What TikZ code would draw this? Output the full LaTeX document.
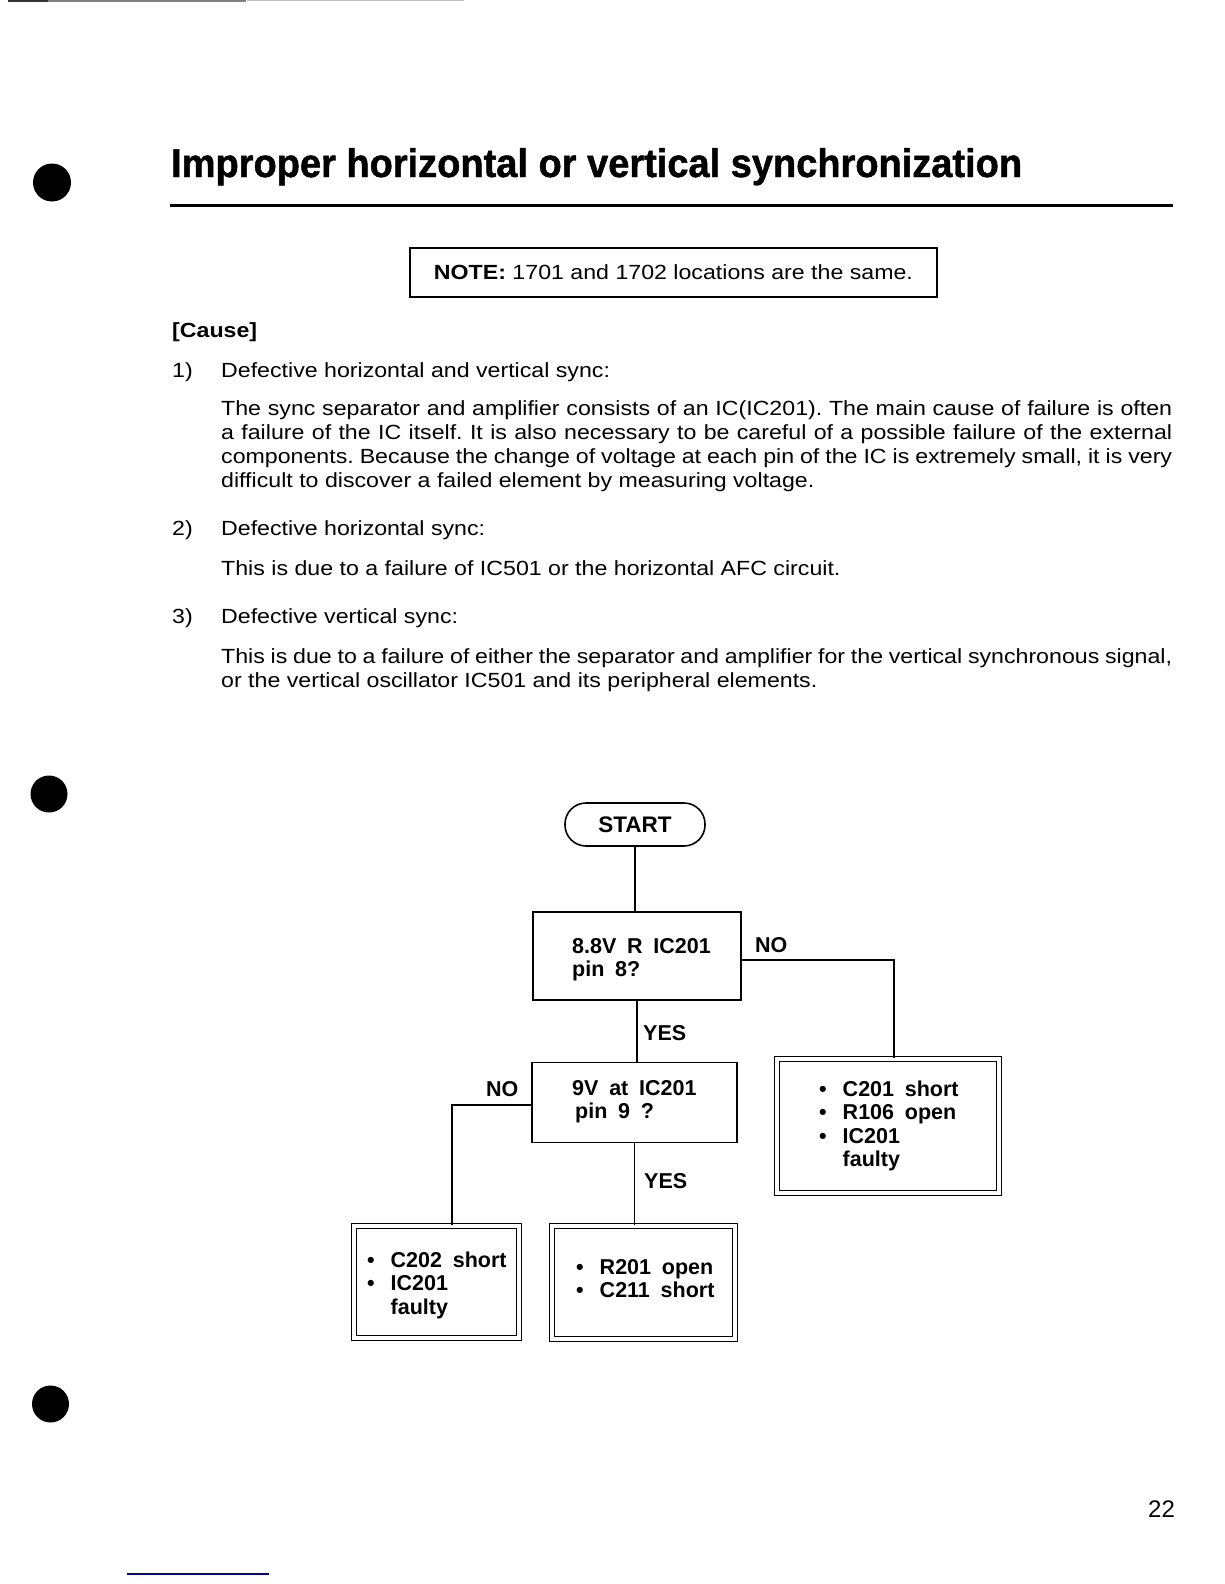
\documentclass[tikz,border=0pt]{standalone}
\usepackage{fontspec}
\setmainfont{Liberation Sans}
\newfontfamily\bodyf[FakeStretch=1.13]{Liberation Sans}
\newfontfamily\titlef[FakeStretch=0.95, BoldFeatures={FakeBold=1.2}]{Liberation Sans}
\usetikzlibrary{positioning}
\frenchspacing

\newcommand{\txt}{\bodyf\fontsize{20.5}{24}\selectfont}
\newcommand{\flw}{\fontsize{21.5}{23.5}\selectfont\bfseries\spaceskip=0.5em plus 0.1em\relax}
\newcommand{\jline}[1]{\makebox[951pt][s]{#1}}
\newcommand{\righe}[1]{\begin{tabular}[t]{@{}l@{}}#1\end{tabular}}
\newcommand{\elenco}[1]{\begin{tabular}[t]{@{}l@{\hspace{16pt}}l@{}}#1\end{tabular}}

\tikzset{
  testo/.style={font=\txt, inner sep=0pt, anchor=base west},
  flusso/.style={font=\flw, inner sep=0pt, anchor=base west},
  domanda/.style={draw, line width=1.6pt, inner sep=0pt},
  esito/.style={draw, line width=1.5pt, double, double distance=3.5pt, inner sep=0pt},
  linea/.style={line width=1.6pt},
}

\begin{document}
\begin{tikzpicture}[x=1pt, y=-1pt]
  \useasboundingbox (0,0) rectangle (1224,1584);

  % bordo di scansione
  \draw[black!80, line width=1.5pt] (8,1) -- (48,1);
  \draw[black!50, line width=1.2pt] (48,1) -- (246,1);
  \draw[black!25, line width=1pt] (247,1) -- (464,1);

  % pallini a margine
  \fill (52,182.5) circle (19pt);
  \fill (49,794) circle (18.5pt);
  \fill (50.5,1404) circle (18.5pt);

  % titolo
  \node[font=\titlef\fontsize{40}{44}\selectfont\bfseries, inner sep=0pt, anchor=base west] (titolo) at (171,177) {Improper horizontal or vertical synchronization};
  \draw[line width=3.5pt] (170,205.5) -- (1173,205.5);

  % nota
  \node[draw, line width=1.4pt, minimum width=527pt, minimum height=49pt, font=\txt, inner sep=0pt] (nota) at (673.5,272.5) {\textbf{NOTE:} 1701 and 1702 locations are the same.};

  % cause
  \node[testo, font=\txt\bfseries] (cause) at (172,337) {[Cause]};

  \node[testo] (n1) at (172,377) {1)};
  \node[testo] (v1) at (221,377) {Defective horizontal and vertical sync:};
  \node[testo] (p1a) at (221,415) {\jline{The sync separator and amplifier consists of an IC(IC201). The main cause of failure is often}};
  \node[testo] (p1b) at (221,439) {\jline{a failure of the IC itself. It is also necessary to be careful of a possible failure of the external}};
  \node[testo] (p1c) at (221,463) {\jline{components. Because the change of voltage at each pin of the IC is extremely small, it is very}};
  \node[testo] (p1d) at (221,487) {difficult to discover a failed element by measuring voltage.};

  \node[testo] (n2) at (172,535) {2)};
  \node[testo] (v2) at (221,535) {Defective horizontal sync:};
  \node[testo] (p2a) at (221,575) {This is due to a failure of IC501 or the horizontal AFC circuit.};

  \node[testo] (n3) at (172,623) {3)};
  \node[testo] (v3) at (221,623) {Defective vertical sync:};
  \node[testo] (p3a) at (221,663) {\jline{This is due to a failure of either the separator and amplifier for the vertical synchronous signal,}};
  \node[testo] (p3b) at (221,687) {or the vertical oscillator IC501 and its peripheral elements.};

  % diagramma di flusso
  \node[draw, line width=1.6pt, rounded corners=21pt, minimum width=140pt, minimum height=43pt, font=\fontsize{22.5}{24}\selectfont\bfseries, inner sep=0pt] (start) at (635,824.5) {START};

  \node[domanda, minimum width=208pt, minimum height=88pt] (q1) at (637,956) {};
  \node[flusso] (q1t) at (572,953) {\righe{8.8V R IC201\\pin 8?}};

  \node[domanda, minimum width=205pt, minimum height=80pt] (q2) at (634.5,1102.5) {};
  \node[flusso] (q2t) at (572,1095) {\righe{9V at IC201\\\hspace{3pt}pin 9 ?}};

  \node[esito, minimum width=222pt, minimum height=134pt] (r1) at (888,1126) {};
  \node[flusso] (r1t) at (819,1096) {\elenco{\textbullet & C201 short\\ \textbullet & R106 open\\ \textbullet & IC201\\ & faulty}};

  \node[esito, minimum width=165pt, minimum height=112pt] (r2) at (436.5,1282) {};
  \node[flusso] (r2t) at (367,1267) {\elenco{\textbullet & C202 short\\ \textbullet & IC201\\ & faulty}};

  \node[esito, minimum width=183pt, minimum height=113pt] (r3) at (643.5,1282.5) {};
  \node[flusso] (r3t) at (576,1274) {\elenco{\textbullet & R201 open\\ \textbullet & C211 short}};

  % etichette
  \node[flusso] (no1) at (755,952) {NO};
  \node[flusso] (si1) at (643,1040) {YES};
  \node[flusso] (no2) at (486,1096) {NO};
  \node[flusso] (si2) at (644,1188) {YES};

  % collegamenti
  \draw[linea] (start.south) -- (start.south |- q1.north);
  \draw[linea] (q1.south) -- (q1.south |- q2.north);
  \draw[linea] ([yshift=-4pt]q1.east) -| ([xshift=6pt]r1.north);
  \draw[linea] ([yshift=-2.5pt]q2.west) -| ([xshift=15.5pt]r2.north);
  \draw[linea] (q2.south) -- (q2.south |- r3.north);

  % numero di pagina
  \node[testo, font=\fontsize{24}{26}\selectfont] (pagina) at (1148,1517) {22};
  \draw[blue!60!black, line width=1.2pt] (127,1574) -- (269,1574);
\end{tikzpicture}
\end{document}
